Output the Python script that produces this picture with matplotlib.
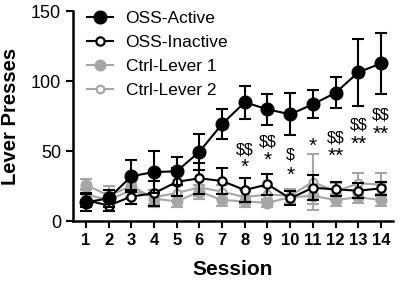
import matplotlib
matplotlib.use('Agg')
import matplotlib.pyplot as plt
import numpy as np

plt.rcParams['font.family'] = ['Liberation Sans', 'DejaVu Sans']

# data
sessions = np.arange(1, 15)
active = [13.4, 16.2, 32, 35, 35.5, 49.5, 69.3, 84.8, 79.8, 76.2, 83.4, 91.6, 106.2, 112.6]
active_err = [6, 6, 11.6, 15, 10, 13, 10.5, 12, 11, 15, 10, 11, 24, 22]
inactive = [15, 11, 17.5, 19.8, 28, 30.5, 28.6, 22.1, 26.2, 16.2, 23.8, 22.6, 21.7, 23.3]
inactive_err = [5, 4, 5, 9, 10, 11, 9.6, 8.5, 7.5, 5, 9, 5, 5.5, 4.5]
ctrl1 = [26, 18, 25, 16, 14, 21, 15, 14, 13, 17, 18, 15, 17, 15]
ctrl1_err = [4, 7, 8, 6, 4, 5, 4, 4, 3, 5, 6, 4, 4, 4]
ctrl2 = [19, 15, 22, 17, 20, 24, 21, 17, 19, 18, 28, 21, 27, 26]
ctrl2_err = [4, 5, 6, 5, 6, 6, 5, 5, 5, 5, 20, 6, 7, 8]

# significance marks: session, text, y
sig_sessions = [8, 8, 9, 9, 10, 10, 11, 12, 12, 13, 13, 14, 14]
sig_text = ['$$', '*', '$$', '*', '$', '*', '*', '$$', '**', '$$', '**', '$$', '**']
sig_y = [50.5, 41, 56.5, 46, 47, 35, 55.5, 59.5, 49, 68.5, 57.5, 75.5, 64.5]

gray = '#a6a6a6'

fig = plt.figure(figsize=(4, 2.83), dpi=100)
ax = fig.add_axes([0.1825, 0.219, 0.80, 0.742])

series = [
    ('Ctrl-Lever 2', ctrl2, ctrl2_err, gray, 'white', 5.5, 1),
    ('Ctrl-Lever 1', ctrl1, ctrl1_err, gray, gray, 7, 2),
    ('OSS-Inactive', inactive, inactive_err, 'black', 'white', 6, 3),
    ('OSS-Active', active, active_err, 'black', 'black', 8.5, 4),
]
handles = {}
for name, vals, err, col, face, ms, z in series:
    ax.errorbar(sessions, vals, yerr=err, fmt='none', ecolor=col,
                elinewidth=1.5, capsize=4.5, capthick=1.5, zorder=z)
    h, = ax.plot(sessions, vals, '-o', color=col, lw=1.5, ms=ms,
                 mfc=face, mec=col, mew=1.6, zorder=z + 0.5)
    handles[name] = h

for s, t, y in zip(sig_sessions, sig_text, sig_y):
    if '*' in t:
        ax.text(s, y - 2.5, t, ha='center', va='center', fontsize=15)
    else:
        ax.text(s, y, t, ha='center', va='center', fontsize=11.5, parse_math=False)

order = ['OSS-Active', 'OSS-Inactive', 'Ctrl-Lever 1', 'Ctrl-Lever 2']
ax.legend([handles[k] for k in order], order, loc='upper left',
          bbox_to_anchor=(0.045, 1.0), frameon=False, fontsize=12.5,
          handlelength=1.5, handletextpad=0.7, labelspacing=0.5,
          borderpad=0, borderaxespad=0)

ax.set_xlim(0.43, 14.53)
ax.set_ylim(0, 150)
ax.set_xticks(sessions)
ax.set_yticks([0, 50, 100, 150])
ax.tick_params(axis='x', labelsize=12, width=1.5, length=5)
ax.tick_params(axis='y', labelsize=13, width=1.5, length=5)
for lbl in ax.get_xticklabels():
    lbl.set_fontweight('bold')
ax.spines['top'].set_visible(False)
ax.spines['right'].set_visible(False)
ax.spines['left'].set_linewidth(1.8)
ax.spines['bottom'].set_linewidth(1.8)

ax.set_xlabel('Session', fontsize=15, fontweight='bold', labelpad=9)
ax.set_ylabel('Lever Presses', fontsize=14.5, fontweight='bold', labelpad=8)

fig.savefig('out.png', dpi=100)
